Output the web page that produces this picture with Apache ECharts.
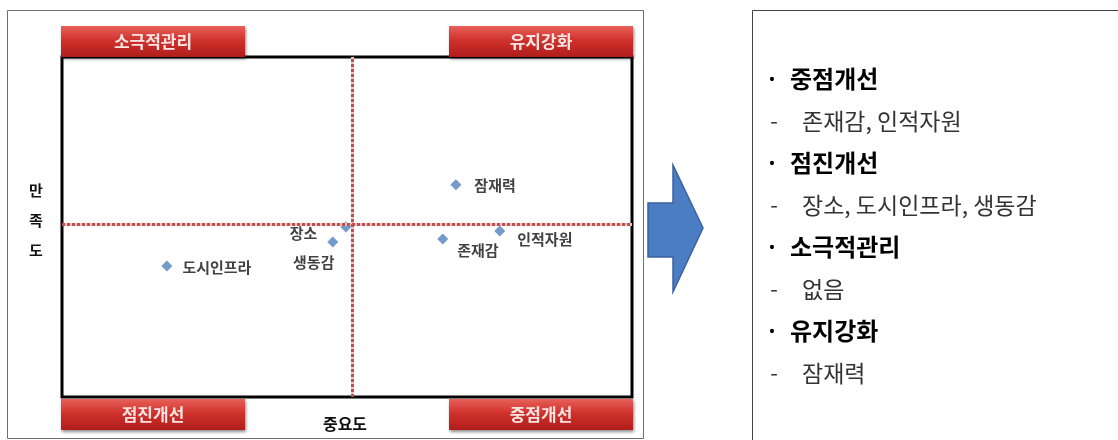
<!DOCTYPE html>
<html>
<head>
<meta charset="utf-8">
<script src="https://cdn.jsdelivr.net/npm/echarts@6/dist/echarts.min.js"></script>
<style>
  html, body { margin: 0; padding: 0; background: #fff; }
  #chart { width: 1118px; height: 440px; }
</style>
</head>
<body>
<div id="chart"></div>
<script>
// point data (importance on x, satisfaction on y)
const names = ['잠재력', '인적자원', '존재감', '장소', '생동감', '도시인프라']
const importance = [69.1, 76.8, 66.8, 49.8, 47.5, 18.4]
const satisfaction = [62.4, 48.8, 46.5, 50.0, 45.6, 38.5]
const labelPos = ['right', 'right', 'right', 'left', 'bottom', 'right']
const labelOffset = [[5, 0], [4, 8], [1, 11], [-15, 6], [-19, -1], [2, 1]]
const meanImportance = 51.0
const meanSatisfaction = 50.9

// quadrant titles: top-left, top-right, bottom-left, bottom-right
const quadrants = ['소극적관리', '유지강화', '점진개선', '중점개선']
const xTitle = '중요도'
const yTitle = '만족도'

// summary list on the right
const summaryHeads = ['중점개선', '점진개선', '소극적관리', '유지강화']
const summaryItems = ['존재감, 인적자원', '장소, 도시인프라, 생동감', '없음', '잠재력']

const chart = echarts.init(document.getElementById('chart'))

const redFill = new echarts.graphic.LinearGradient(0, 0, 0, 1, [
  { offset: 0, color: '#e8605a' },
  { offset: 0.45, color: '#d0322d' },
  { offset: 1, color: '#b01d1a' }
])

const boxes = [
  { x: 61, y: 26 }, { x: 449, y: 26 },
  { x: 61, y: 399 }, { x: 449, y: 399 }
]

const graphics = [
  // outer frame of the matrix panel
  { type: 'rect', shape: { x: 7.5, y: 10.5, width: 636, height: 428 }, style: { fill: 'none', stroke: '#6e6e6e', lineWidth: 1 }, z: 0 },
  // right summary panel
  { type: 'rect', shape: { x: 752.5, y: 10.5, width: 400, height: 440 }, style: { fill: '#fff', stroke: '#444', lineWidth: 1 } },
  // arrow
  {
    type: 'polygon',
    shape: { points: [[648, 203], [673, 203], [673, 165], [703, 228], [673, 292], [673, 257], [648, 257]] },
    style: { fill: '#4a7dc2', stroke: '#3a62a0', lineWidth: 1.5 }
  },
  // axis titles
  { type: 'text', x: 345, y: 424, style: { text: xTitle, font: 'bold 16px "Noto Sans CJK KR"', fill: '#111', align: 'center', verticalAlign: 'middle' } },
  { type: 'text', x: 36, y: 220, style: { text: yTitle.split('').join('\n'), font: 'bold 15px "Noto Sans CJK KR"', lineHeight: 30, fill: '#111', align: 'center', verticalAlign: 'middle' } }
]

boxes.forEach((b, i) => {
  graphics.push({
    type: 'rect', shape: { x: b.x, y: b.y, width: 184, height: 31 },
    style: { fill: redFill, shadowBlur: 3, shadowOffsetX: 1, shadowOffsetY: 2, shadowColor: 'rgba(0,0,0,0.45)' }, z: 5
  })
  graphics.push({
    type: 'text', x: b.x + 92, y: b.y + 16, z: 6,
    style: { text: quadrants[i], font: 'bold 17px "Noto Sans CJK KR"', fill: '#fbe4e2', align: 'center', verticalAlign: 'middle' }
  })
})

summaryHeads.forEach((h, i) => {
  const y0 = 79 + i * 84
  graphics.push({ type: 'text', x: 772, y: y0, style: { text: '·', font: 'bold 22px "Noto Sans CJK KR"', fill: '#000', align: 'center', verticalAlign: 'middle' } })
  graphics.push({ type: 'text', x: 790, y: y0, style: { text: h, font: 'bold 24px "Noto Sans CJK KR"', fill: '#000', verticalAlign: 'middle' } })
  graphics.push({ type: 'text', x: 774, y: y0 + 42, style: { text: '-', font: '22px "Noto Sans CJK KR"', fill: '#333', align: 'center', verticalAlign: 'middle' } })
  graphics.push({ type: 'text', x: 802, y: y0 + 42, style: { text: summaryItems[i], font: '23px "Noto Sans CJK KR"', fill: '#333', verticalAlign: 'middle' } })
})

chart.setOption({
  animation: false,
  backgroundColor: '#fff',
  grid: {
    left: 62, top: 57, right: 486, bottom: 43,
    show: true, borderColor: '#000', borderWidth: 3, backgroundColor: '#fff', z: 1
  },
  xAxis: { type: 'value', min: 0, max: 100, show: false },
  yAxis: { type: 'value', min: 0, max: 100, show: false },
  graphic: graphics,
  series: [
    {
      type: 'scatter',
      symbol: 'diamond',
      symbolSize: 11,
      itemStyle: { color: '#4f81bd' },
      z: 4,
      data: names.map((n, i) => ({
        name: n,
        value: [importance[i], satisfaction[i]],
        label: { position: labelPos[i], offset: labelOffset[i] }
      })),
      label: {
        show: true,
        formatter: p => p.name,
        color: '#111',
        fontWeight: 'bold',
        fontSize: 15,
        fontFamily: 'Noto Sans CJK KR',
        distance: 8
      },
      markLine: {
        silent: true,
        symbol: 'none',
        label: { show: false },
        lineStyle: { color: '#efc4c4', type: 'solid', width: 3 },
        data: [{ xAxis: meanImportance }, { yAxis: meanSatisfaction }]
      }
    },
    {
      type: 'scatter',
      data: [],
      z: 3,
      markLine: {
        silent: true,
        symbol: 'none',
        label: { show: false },
        lineStyle: { color: '#c0504d', type: [3, 2], width: 3 },
        data: [{ xAxis: meanImportance }, { yAxis: meanSatisfaction }]
      }
    }
  ]
})
</script>
</body>
</html>
